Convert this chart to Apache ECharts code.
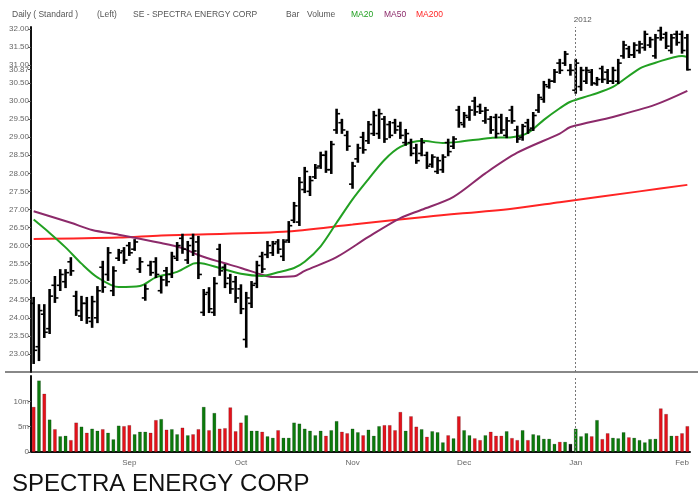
<!DOCTYPE html>
<html>
<head>
<meta charset="utf-8">
<title>SE - Spectra Energy Corp</title>
<script src="https://cdn.jsdelivr.net/npm/echarts@6/dist/echarts.min.js"></script>
<style>
  html, body { margin: 0; padding: 0; background: #fff; }
  #chart { width: 698px; height: 498px; }
</style>
</head>
<body>
<div id="chart"></div>
<script>
// trading days, Aug 2011 - Feb 2012
const augDays = [8, 9, 10, 11, 12, 15, 16, 17, 18, 19, 22, 23, 24, 25, 26, 29, 30, 31]
const sepDays = [1, 2, 6, 7, 8, 9, 12, 13, 14, 15, 16, 19, 20, 21, 22, 23, 26, 27, 28, 29, 30]
const octDays = [3, 4, 5, 6, 7, 10, 11, 12, 13, 14, 17, 18, 19, 20, 21, 24, 25, 26, 27, 28, 31]
const novDays = [1, 2, 3, 4, 7, 8, 9, 10, 11, 14, 15, 16, 17, 18, 21, 22, 23, 25, 28, 29, 30]
const decDays = [1, 2, 5, 6, 7, 8, 9, 12, 13, 14, 15, 16, 19, 20, 21, 22, 23, 27, 28, 29, 30]
const janDays = [3, 4, 5, 6, 9, 10, 11, 12, 13, 17, 18, 19, 20, 23, 24, 25, 26, 27, 30, 31]
const febDays = [1, 2]

const monthTicks = [
  ['2011-09-01', 'Sep'], ['2011-10-03', 'Oct'], ['2011-11-01', 'Nov'],
  ['2011-12-01', 'Dec'], ['2012-01-03', 'Jan'], ['2012-02-01', 'Feb'],
]

const highs = [
  24.55, 24.35, 24.35, 24.77, 25.13, 25.32, 25.32, 25.65, 24.72, 24.58, 24.55, 24.58, 24.85, 25.55, 25.93, 25.40, 25.88, 25.93,
  26.07, 26.15, 25.65, 24.90, 25.55, 25.65, 25.13, 25.38, 25.80, 26.07, 26.30, 26.10, 26.30, 26.24, 24.77, 24.82, 25.10, 26.02, 25.46, 25.19, 25.13,
  24.90, 24.69, 24.99, 25.55, 25.80, 26.10, 26.10, 26.15, 26.15, 26.65, 27.18, 27.87, 28.15, 27.90, 28.23, 28.57, 28.60, 28.87, 29.76, 29.48, 29.15,
  28.29, 28.79, 29.12, 29.42, 29.70, 29.76, 29.56, 29.42, 29.48, 29.40, 29.20, 28.93, 28.79, 28.95, 28.57, 28.50, 28.43, 28.50, 28.93, 29.00, 29.84,
  29.67, 29.84, 30.09, 29.90, 29.81, 29.56, 29.62, 29.62, 29.53, 29.84, 29.29, 29.34, 29.48, 29.67, 30.17, 30.53, 30.59, 30.86, 31.14, 31.36, 31.00,
  31.14, 30.92, 30.92, 30.86, 30.64, 30.95, 30.86, 30.92, 31.14, 31.64, 31.50, 31.60, 31.64, 31.92, 31.75, 31.83, 32.03, 31.89, 31.83, 31.92,
  31.92, 31.83,
]
const lows = [
  22.75, 22.83, 23.47, 23.58, 24.44, 24.77, 24.85, 25.19, 24.08, 23.94, 23.86, 23.75, 23.88, 24.72, 25.05, 24.63, 25.60, 25.52,
  25.74, 25.88, 25.27, 24.50, 25.19, 25.13, 24.70, 24.90, 25.13, 25.60, 25.80, 25.52, 25.74, 25.10, 24.08, 24.16, 24.08, 25.19, 24.85, 24.69, 24.44,
  24.13, 23.20, 24.30, 24.85, 25.27, 25.68, 25.74, 25.80, 25.60, 26.10, 26.65, 26.57, 27.48, 27.40, 27.87, 28.15, 28.04, 28.01, 29.12, 29.12, 28.65,
  27.60, 28.32, 28.57, 28.84, 29.06, 28.98, 28.87, 29.00, 29.12, 28.98, 28.79, 28.50, 28.29, 28.50, 28.15, 28.18, 28.01, 28.04, 28.50, 28.70, 29.29,
  29.29, 29.48, 29.62, 29.67, 29.40, 29.12, 29.00, 29.12, 29.00, 29.40, 28.87, 28.93, 29.12, 29.20, 29.70, 29.98, 30.37, 30.53, 30.78, 31.00, 30.73,
  30.23, 30.31, 30.50, 30.45, 30.45, 30.53, 30.50, 30.50, 30.50, 31.20, 31.22, 31.22, 31.34, 31.42, 31.50, 31.20, 31.70, 31.47, 31.34, 31.56,
  31.34, 30.87,
]
const opens = [
  24.40, 23.20, 24.10, 23.70, 24.90, 24.90, 25.00, 25.55, 24.60, 24.05, 24.40, 23.90, 24.00, 25.40, 25.20, 24.75, 25.65, 25.85,
  26.00, 25.90, 25.35, 24.55, 25.45, 25.55, 24.75, 25.30, 25.20, 25.65, 26.20, 25.60, 26.20, 26.10, 24.15, 24.70, 24.15, 25.90, 25.40, 25.10, 25.00,
  24.80, 23.40, 24.40, 24.95, 25.70, 25.75, 25.80, 26.10, 25.70, 26.15, 26.70, 26.65, 27.55, 27.50, 27.90, 28.20, 28.50, 28.10, 29.20, 29.40, 29.05,
  27.70, 28.40, 29.00, 28.90, 29.10, 29.10, 29.50, 29.35, 29.40, 29.30, 28.85, 28.85, 28.70, 28.55, 28.50, 28.25, 28.05, 28.10, 28.85, 28.75, 29.75,
  29.35, 29.55, 30.00, 29.85, 29.45, 29.50, 29.55, 29.55, 29.05, 29.75, 29.20, 29.00, 29.40, 29.25, 29.75, 30.05, 30.40, 30.55, 31.05, 31.05, 30.85,
  30.30, 30.40, 30.55, 30.80, 30.48, 30.90, 30.80, 30.55, 30.55, 31.25, 31.45, 31.28, 31.40, 31.48, 31.55, 31.25, 31.95, 31.85, 31.40, 31.85,
  31.85, 31.75,
]
const closes = [
  23.10, 24.20, 23.60, 24.60, 24.55, 25.20, 25.25, 25.30, 24.20, 24.40, 24.00, 24.45, 24.75, 24.85, 25.80, 25.30, 25.80, 25.60,
  25.80, 26.10, 25.55, 24.80, 25.25, 25.20, 25.05, 25.00, 25.70, 26.00, 25.90, 26.00, 25.85, 25.20, 24.65, 24.25, 24.95, 25.30, 24.95, 24.80, 24.55,
  24.25, 24.55, 24.90, 25.45, 25.35, 26.00, 26.05, 25.90, 26.10, 26.55, 27.10, 27.75, 28.05, 27.80, 28.15, 28.50, 28.10, 28.80, 29.65, 29.20, 28.75,
  28.20, 28.70, 28.65, 29.35, 29.60, 29.65, 28.95, 29.05, 29.20, 29.05, 29.10, 28.55, 28.35, 28.85, 28.20, 28.45, 28.35, 28.45, 28.60, 28.95, 29.40,
  29.60, 29.75, 29.70, 29.72, 29.75, 29.20, 29.10, 29.20, 29.45, 29.45, 28.95, 29.30, 29.20, 29.60, 30.10, 30.45, 30.55, 30.80, 30.85, 31.30, 30.85,
  31.05, 30.85, 30.85, 30.50, 30.60, 30.60, 30.55, 30.85, 31.05, 31.55, 31.28, 31.55, 31.58, 31.85, 31.70, 31.75, 31.75, 31.52, 31.75, 31.62,
  31.40, 30.87,
]

// volume in millions, direction 1 = up (green), 0 = down (red), 2 = unchanged
const volumes = [
  8.9, 14.1, 11.5, 6.4, 4.5, 3.1, 3.2, 2.35, 5.8, 5.0, 3.8, 4.6, 4.2, 4.5, 3.8, 2.5, 5.2, 5.1,
  5.3, 3.5, 4.0, 4.0, 3.8, 6.3, 6.5, 4.4, 4.5, 3.5, 4.8, 3.3, 3.5, 4.5, 8.9, 4.3, 7.7, 4.6, 4.7, 8.8, 4.1,
  5.8, 7.25, 4.2, 4.2, 4.0, 3.1, 2.8, 4.3, 2.8, 2.8, 5.8, 5.6, 4.6, 4.2, 3.3, 4.2, 3.2, 4.3, 6.1, 4.0, 3.7,
  4.6, 3.9, 3.3, 4.4, 3.2, 5.1, 5.3, 5.3, 4.3, 7.9, 4.2, 7.05, 5.0, 4.5, 3.0, 4.1, 3.9, 1.9, 3.3, 2.7, 7.05,
  4.3, 3.3, 2.7, 2.35, 3.3, 4.0, 3.2, 3.2, 4.1, 2.75, 2.35, 4.3, 2.35, 3.5, 3.3, 2.6, 2.6, 1.6, 2.0, 2.0, 1.6,
  4.6, 3.1, 3.7, 3.1, 6.3, 2.55, 3.7, 2.8, 2.7, 3.9, 2.9, 2.8, 2.35, 1.9, 2.55, 2.6, 8.6, 7.5, 3.2, 3.2,
  3.7, 5.1,
]
const volDir = [
  0, 1, 0, 1, 0, 1, 1, 0, 0, 1, 0, 1, 1, 0, 1, 1, 1, 0,
  0, 1, 1, 1, 0, 0, 1, 0, 1, 1, 0, 1, 0, 0, 1, 0, 1, 0, 0, 0, 0,
  0, 1, 1, 1, 0, 1, 1, 0, 1, 1, 1, 1, 1, 1, 1, 1, 0, 1, 1, 0, 0,
  1, 1, 0, 1, 1, 1, 0, 0, 0, 0, 1, 0, 0, 1, 0, 1, 1, 1, 0, 1, 0,
  1, 1, 0, 0, 1, 0, 0, 0, 1, 0, 0, 1, 0, 1, 1, 1, 1, 1, 0, 1, 2,
  1, 1, 1, 0, 1, 0, 0, 1, 1, 1, 0, 1, 1, 1, 1, 1, 0, 0, 1, 0,
  0, 0,
]

// moving averages: [bar index, value]
const ma20Pts = [
  [0, 26.72], [3, 26.35], [6, 25.95], [9, 25.5], [12, 25.12], [16, 24.85], [20, 24.88], [23, 25.12],
  [27, 25.27], [30, 25.5], [31, 25.52], [35, 25.38], [39, 25.22], [43, 25.16], [46, 25.26], [49, 25.38],
  [51, 25.55], [54, 25.98], [57, 26.63], [60, 27.28], [63, 27.84], [66, 28.37], [69, 28.73], [73, 28.9],
  [77, 28.84], [80, 28.87], [86, 28.98], [90, 29.0], [93, 29.12], [96, 29.48], [99, 29.8], [101, 29.98],
  [105, 30.17], [109, 30.39], [114, 30.9], [117, 31.06], [122, 31.25], [123, 31.22],
]
const ma50Pts = [
  [0, 26.95], [7, 26.63], [11, 26.43], [16, 26.3], [24, 26.07], [28, 25.93], [31, 25.74], [35, 25.55],
  [39, 25.38], [43, 25.19], [45, 25.13], [49, 25.15], [51, 25.3], [57, 25.68], [63, 26.24], [69, 26.76],
  [73, 26.99], [79, 27.35], [85, 28.0], [91, 28.57], [99, 29.1], [101, 29.28], [109, 29.56], [117, 29.9],
  [123, 30.28],
]
const ma200Pts = [
  [0, 26.18], [16, 26.22], [24, 26.28], [47, 26.38], [60, 26.58], [74, 26.8], [90, 27.02], [99, 27.2],
  [114, 27.5], [123, 27.68],
]

const priceTicks = [23, 23.5, 24, 24.5, 25, 25.5, 26, 26.5, 27, 27.5, 28, 28.5, 29, 29.5, 30, 30.5, 30.87, 31, 31.5, 32]
const volTicks = [0, 5, 10]

const upColor = '#0c7a0c'
const downColor = '#e3121b'
const flatColor = '#111111'
const ma20Color = '#22a022'
const ma50Color = '#8c2a6a'
const ma200Color = '#ff2424'

const pad = n => (n < 10 ? '0' + n : '' + n)
const dates = []
;[['2011-08', augDays], ['2011-09', sepDays], ['2011-10', octDays], ['2011-11', novDays],
  ['2011-12', decDays], ['2012-01', janDays], ['2012-02', febDays]].forEach(function (m) {
  m[1].forEach(d => dates.push(m[0] + '-' + pad(d)))
})
const tickLabel = {}
monthTicks.forEach(t => { tickLabel[t[0]] = t[1] })

const ohlcData = dates.map((d, i) => [i, opens[i], closes[i], lows[i], highs[i]])
const volData = volumes.map((v, i) => ({
  value: v,
  itemStyle: { color: volDir[i] === 1 ? upColor : (volDir[i] === 0 ? downColor : flatColor) },
}))
const toLine = pts => pts.map(p => [dates[p[0]], p[1]])

function renderOhlc (params, api) {
  const x = api.value(0)
  const o = api.coord([x, api.value(1)])
  const c = api.coord([x, api.value(2)])
  const l = api.coord([x, api.value(3)])
  const h = api.coord([x, api.value(4)])
  const t = 2.2
  return {
    type: 'group',
    children: [
      { type: 'line', shape: { x1: h[0], y1: h[1] - 1, x2: l[0], y2: l[1] + 1 }, style: { stroke: '#000', lineWidth: 2.6 } },
      { type: 'line', shape: { x1: o[0] - 1.3 - t, y1: o[1], x2: o[0], y2: o[1] }, style: { stroke: '#000', lineWidth: 1.6 } },
      { type: 'line', shape: { x1: c[0], y1: c[1], x2: c[0] + 1.3 + t, y2: c[1] }, style: { stroke: '#000', lineWidth: 1.6 } },
    ],
  }
}

const font = '"Liberation Sans", Arial, sans-serif'
const headerTexts = [
  ['Daily ( Standard )', 12, '#555'], ['(Left)', 97, '#555'], ['SE - SPECTRA ENERGY CORP', 133, '#555'],
  ['Bar', 286, '#555'], ['Volume', 307, '#555'], ['MA20', 351, ma20Color], ['MA50', 384, ma50Color], ['MA200', 416, ma200Color],
]

const yearLine = {
  symbol: 'none',
  silent: true,
  lineStyle: { color: '#777', type: [2, 2], width: 1 },
  data: [{ xAxis: '2012-01-03' }],
}

const chart = echarts.init(document.getElementById('chart'))
chart.setOption({
  animation: false,
  backgroundColor: '#fff',
  textStyle: { fontFamily: font },
  title: {
    text: 'SPECTRA ENERGY CORP',
    left: 12,
    top: 472,
    padding: 0,
    textStyle: { fontSize: 24, fontWeight: 'normal', color: '#111', fontFamily: font },
  },
  graphic: headerTexts.map(t => ({
    type: 'text',
    left: t[1],
    top: 10,
    style: { text: t[0], fill: t[2], font: '8.5px ' + font },
  })).concat([{
    type: 'line',
    shape: { x1: 5, y1: 372, x2: 698, y2: 372 },
    style: { stroke: '#888', lineWidth: 2 },
  }]),
  grid: [
    { left: 31, right: 8, top: 27, height: 345 },
    { left: 31, right: 8, top: 376, height: 76 },
  ],
  xAxis: [
    { type: 'category', gridIndex: 0, data: dates, show: false },
    {
      type: 'category',
      gridIndex: 1,
      data: dates,
      axisLine: { lineStyle: { color: '#111', width: 2 } },
      axisTick: { interval: 0, length: 3, lineStyle: { color: '#333' } },
      axisLabel: {
        interval: (idx, val) => !!tickLabel[val],
        formatter: val => tickLabel[val] || '',
        color: '#666',
        fontSize: 8,
        margin: 7,
      },
    },
  ],
  yAxis: [
    {
      type: 'value',
      gridIndex: 0,
      min: 22.5,
      max: 32.05,
      splitLine: { show: false },
      axisLine: { show: true, lineStyle: { color: '#111', width: 2 } },
      axisTick: { show: true, length: 3, customValues: priceTicks, lineStyle: { color: '#555' } },
      axisLabel: { customValues: priceTicks, formatter: v => v.toFixed(2), color: '#666', fontSize: 8, margin: 2 },
    },
    {
      type: 'value',
      gridIndex: 1,
      min: 0,
      max: 15,
      splitLine: { show: false },
      axisLine: { show: true, lineStyle: { color: '#111', width: 2 } },
      axisTick: { show: true, length: 3, customValues: volTicks, lineStyle: { color: '#555' } },
      axisLabel: { customValues: volTicks, formatter: v => (v ? v + 'm' : '0'), color: '#666', fontSize: 8, margin: 2 },
    },
  ],
  series: [
    {
      name: 'MA200',
      type: 'line',
      data: toLine(ma200Pts),
      smooth: 0.3,
      symbol: 'none',
      lineStyle: { color: ma200Color, width: 2 },
      z: 2,
      markLine: Object.assign({}, yearLine, {
        label: { show: true, position: 'end', formatter: '2012', color: '#555', fontSize: 8, distance: 3, offset: [7, 0] },
      }),
    },
    {
      name: 'MA50',
      type: 'line',
      data: toLine(ma50Pts),
      smooth: 0.3,
      symbol: 'none',
      lineStyle: { color: ma50Color, width: 2 },
      z: 2,
    },
    {
      name: 'MA20',
      type: 'line',
      data: toLine(ma20Pts),
      smooth: 0.3,
      symbol: 'none',
      lineStyle: { color: ma20Color, width: 2 },
      z: 2,
    },
    {
      name: 'Bar',
      type: 'custom',
      renderItem: renderOhlc,
      data: ohlcData,
      encode: { x: 0, y: [1, 2, 3, 4] },
      z: 3,
    },
    {
      name: 'Volume',
      type: 'bar',
      xAxisIndex: 1,
      yAxisIndex: 1,
      data: volData,
      barWidth: 3.6,
      itemStyle: { borderColor: 'rgba(0,0,0,0.35)', borderWidth: 0.5 },
      markLine: Object.assign({}, yearLine, { label: { show: false } }),
    },
  ],
})
</script>
</body>
</html>
